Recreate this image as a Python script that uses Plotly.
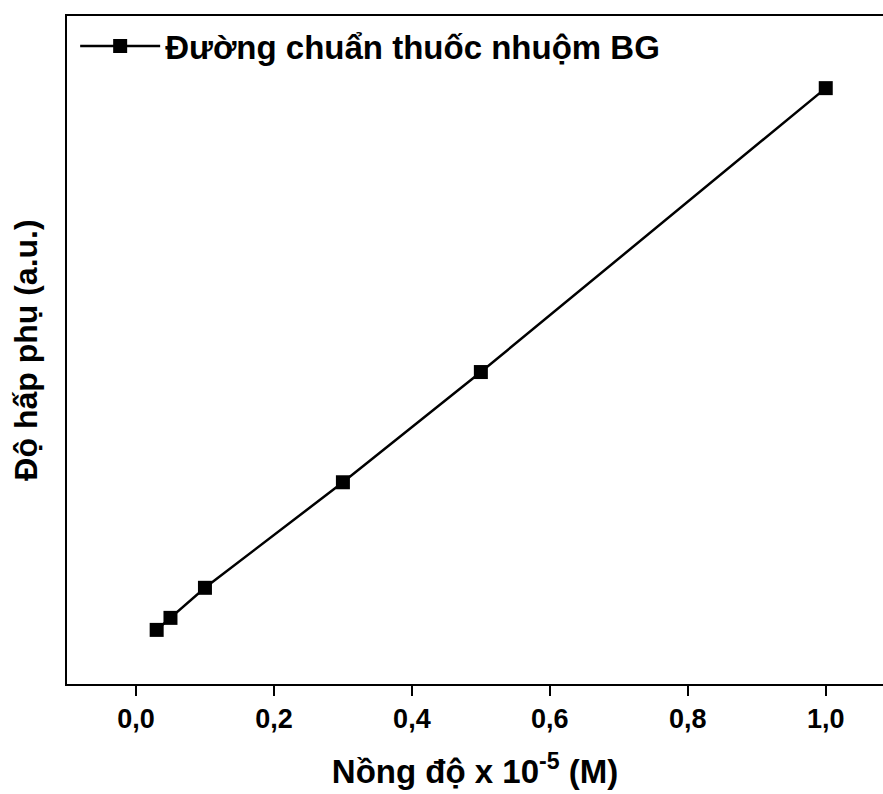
import plotly.graph_objects as go

# Data
concentration = [0.03, 0.05, 0.1, 0.3, 0.5, 1.0]
absorbance = [0.081, 0.099, 0.144, 0.302, 0.467, 0.892]
series_name = "Đường chuẩn thuốc nhuộm BG"
x_ticks = [0.0, 0.2, 0.4, 0.6, 0.8, 1.0]
x_tick_labels = ["0,0", "0,2", "0,4", "0,6", "0,8", "1,0"]

FONT = "Liberation Sans, Arial, sans-serif"

fig = go.Figure()
fig.add_trace(go.Scatter(
    x=concentration, y=absorbance, mode="lines+markers", name=series_name,
    line=dict(color="black", width=2.5),
    marker=dict(symbol="square", size=14, color="black"),
))

fig.update_layout(
    width=883, height=794,
    margin=dict(l=67, r=0, t=16, b=110),
    paper_bgcolor="white", plot_bgcolor="white",
    font=dict(family=FONT, color="black"),
    showlegend=True,
    legend=dict(x=0.01, y=0.997, xanchor="left", yanchor="top",
                bgcolor="rgba(0,0,0,0)", itemwidth=80,
                font=dict(size=33, family=FONT, weight="bold")),
    xaxis=dict(
        range=[-0.1, 1.083], tickvals=x_ticks, ticktext=x_tick_labels,
        showline=True, linecolor="black", linewidth=2, mirror=True,
        ticks="outside", ticklen=10, tickwidth=2, tickcolor="black",
        showgrid=False, zeroline=False,
        tickfont=dict(size=27, family=FONT, weight="bold"),
        title=dict(text="Nồng độ x 10<sup>-5</sup> (M)", standoff=26,
                   font=dict(size=33, family=FONT, weight="bold")),
    ),
    yaxis=dict(
        range=[0, 1], showticklabels=False, ticks="",
        showline=True, linecolor="black", linewidth=2, mirror=False,
        showgrid=False, zeroline=False,
        title=dict(text="Độ hấp phụ (a.u.)", standoff=18,
                   font=dict(size=32, family=FONT, weight="bold")),
    ),
)

fig.write_html("out.html")
